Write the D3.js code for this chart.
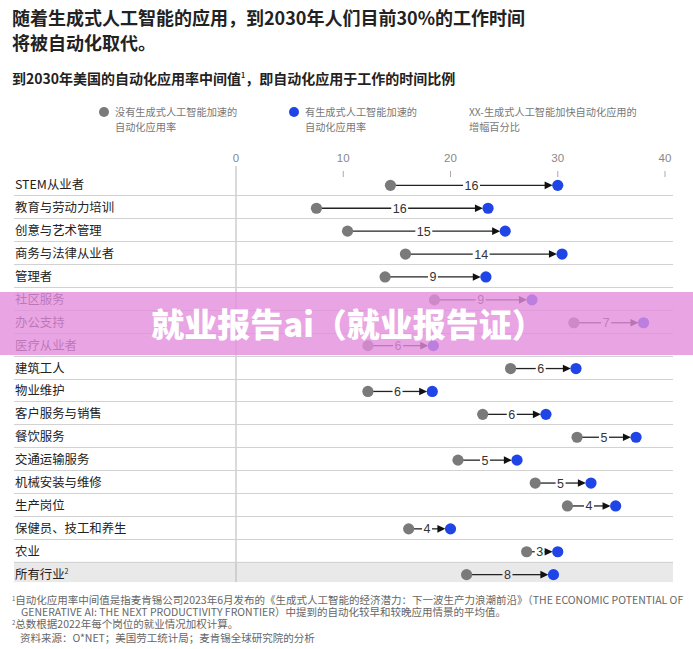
<!DOCTYPE html>
<html>
<head>
<meta charset="utf-8">
<script src="https://cdn.jsdelivr.net/npm/d3@7"></script>
<style>
  body { margin: 0; background: #fff; }
  svg { display: block; }
  .cjk { font-family: "Noto Sans CJK SC", "Noto Sans", sans-serif; }
  .num { font-family: "Liberation Sans", Arial, sans-serif; }
</style>
</head>
<body>
<svg id="chart" width="693" height="649"></svg>
<script>
// chart data
var categories = ['STEM从业者', '教育与劳动力培训', '创意与艺术管理', '商务与法律从业者', '管理者',
  '社区服务', '办公支持', '医疗从业者', '建筑工人', '物业维护', '客户服务与销售', '餐饮服务',
  '交通运输服务', '机械安装与维修', '生产岗位', '保健员、技工和养生', '农业', '所有行业'];
var withoutAI = [14.4, 7.5, 10.4, 15.8, 13.9, 18.5, 31.5, 12.3, 25.6, 12.3, 23.0, 31.8, 20.7, 27.9, 30.9, 16.1, 27.1, 21.5];
var withAI = [30.0, 23.5, 25.1, 30.4, 23.3, 27.6, 38.0, 18.4, 31.7, 18.3, 28.9, 37.3, 26.2, 33.1, 35.4, 20.0, 30.0, 29.6];
var increase = [16, 16, 15, 14, 9, 9, 7, 6, 6, 6, 6, 5, 5, 5, 4, 4, 3, 8];
var tickValues = [0, 10, 20, 30, 40];

var GRAY = '#7a7a7a', BLUE = '#1f45e6', R = 5.6;

var svg = d3.select('#chart');

// title + subtitle
svg.append('text').attr('class', 'cjk').attr('x', 12).attr('y', 25)
  .attr('font-size', 18).attr('font-weight', 700).attr('fill', '#222')
  .text('随着生成式人工智能的应用，到2030年人们目前30%的工作时间');
svg.append('text').attr('class', 'cjk').attr('x', 12).attr('y', 50)
  .attr('font-size', 18).attr('font-weight', 700).attr('fill', '#222')
  .text('将被自动化取代。');

var sub = svg.append('text').attr('class', 'cjk').attr('x', 12).attr('y', 84)
  .attr('font-size', 14).attr('font-weight', 700).attr('fill', '#222');
sub.append('tspan').text('到2030年美国的自动化应用率中间值');
sub.append('tspan').attr('font-size', 7).attr('dy', -6).text('1');
sub.append('tspan').attr('dy', 6).text('，即自动化应用于工作的时间比例');

// legend
var legend = [
  {x: 104, color: GRAY, lines: ['没有生成式人工智能加速的', '自动化应用率']},
  {x: 294, color: BLUE, lines: ['有生成式人工智能加速的', '自动化应用率']},
  {x: null, color: null, lines: ['XX-生成式人工智能加快自动化应用的', '增幅百分比']}
];
legend.forEach(function(l, i){
  var tx = l.x === null ? 469 : l.x + 11;
  if (l.color) svg.append('circle').attr('cx', l.x).attr('cy', 112).attr('r', 5).attr('fill', l.color);
  l.lines.forEach(function(t, j){
    svg.append('text').attr('class', 'cjk').attr('x', tx).attr('y', 116 + j * 15)
      .attr('font-size', 10.2).attr('fill', '#777').text(t);
  });
});

// scales
var x = d3.scaleLinear().domain([0, 40]).range([236, 665]);
var y = d3.scaleBand().domain(categories).range([172.4, 584.6]);
var left = 14, right = 673;

// last row background
var last = categories[categories.length - 1];
svg.append('rect').attr('x', left).attr('y', y(last)).attr('width', right - left)
  .attr('height', y.bandwidth() - 2.5).attr('fill', '#e9e9e9');

// axis ticks
var axis = svg.append('g');
axis.selectAll('text').data(tickValues).enter().append('text')
  .attr('class', 'num').attr('x', function(d){ return x(d); }).attr('y', 162)
  .attr('text-anchor', 'middle').attr('font-size', 11.5).attr('fill', '#888')
  .text(function(d){ return d; });
axis.selectAll('line').data(tickValues.slice(1)).enter().append('line')
  .attr('x1', function(d){ return x(d); }).attr('x2', function(d){ return x(d); })
  .attr('y1', 171).attr('y2', 177).attr('stroke', '#aaa');
svg.append('line').attr('x1', x(0)).attr('x2', x(0)).attr('y1', 166).attr('y2', 582)
  .attr('stroke', '#b5b5b5').attr('stroke-width', 1);

// row separators
svg.selectAll('.sep').data(categories.slice(0, -1)).enter().append('line')
  .attr('x1', left).attr('x2', right)
  .attr('y1', function(d){ return Math.round(y(d) + y.bandwidth()) + 0.5; })
  .attr('y2', function(d){ return Math.round(y(d) + y.bandwidth()) + 0.5; })
  .attr('stroke', '#d2d2d2');

// row labels
categories.forEach(function(c, i){
  var t = svg.append('text').attr('class', 'cjk').attr('x', left + 1)
    .attr('y', y(c) + y.bandwidth() / 2 + 5.5).attr('font-size', 12.4).attr('fill', '#222');
  t.append('tspan').text(c);
  if (i === categories.length - 1) t.append('tspan').attr('font-size', 7).attr('dy', -5).text('2');
});

// dumbbells
categories.forEach(function(c, i){
  var cy = y(c) + y.bandwidth() / 2 + 1.5;
  var x0 = x(withoutAI[i]), x1 = x(withAI[i]);
  var tip = x1 - R + 0.5;
  var g = svg.append('g');
  var mid = (x0 + tip) / 2;
  var lbl = g.append('text').attr('class', 'num').attr('x', mid).attr('y', cy + 4.5)
    .attr('text-anchor', 'middle').attr('font-size', 12.5).attr('fill', '#333').text(increase[i]);
  var w = lbl.node().getComputedTextLength() / 2 + 1.5;
  g.append('line').attr('x1', x0).attr('x2', mid - w).attr('y1', cy).attr('y2', cy)
    .attr('stroke', '#222').attr('stroke-width', 1.3);
  g.append('line').attr('x1', mid + w).attr('x2', tip - 6).attr('y1', cy).attr('y2', cy)
    .attr('stroke', '#222').attr('stroke-width', 1.3);
  g.append('path').attr('d', 'M' + (tip - 8) + ',' + (cy - 3.8) + 'L' + tip + ',' + cy + 'L' + (tip - 8) + ',' + (cy + 3.8) + 'Z')
    .attr('fill', '#111');
  g.append('circle').attr('cx', x0).attr('cy', cy).attr('r', R).attr('fill', GRAY);
  g.append('circle').attr('cx', x1).attr('cy', cy).attr('r', R).attr('fill', BLUE);
});

// footnotes
var notes = [
  {x: 12, y: 604, sup: '1', text: '自动化应用率中间值是指麦肯锡公司2023年6月发布的《生成式人工智能的经济潜力：下一波生产力浪潮前沿》（THE ECONOMIC POTENTIAL OF'},
  {x: 21, y: 616, sup: null, text: 'GENERATIVE  AI: THE NEXT PRODUCTIVITY FRONTIER）中提到的自动化较早和较晚应用情景的平均值。'},
  {x: 12, y: 628, sup: '2', text: '总数根据2022年每个岗位的就业情况加权计算。'},
  {x: 20, y: 642, sup: null, text: '资料来源：O*NET；美国劳工统计局；麦肯锡全球研究院的分析'}
];
notes.forEach(function(n){
  var t = svg.append('text').attr('class', 'cjk').attr('x', n.x).attr('y', n.y)
    .attr('font-size', 10.5).attr('fill', '#666');
  if (n.sup) t.append('tspan').attr('font-size', 6).attr('dy', -3.5).text(n.sup);
  t.append('tspan').attr('dy', n.sup ? 3.5 : 0).text(n.text);
});

// watermark band
svg.append('rect').attr('x', 0).attr('y', 292).attr('width', 693).attr('height', 63)
  .attr('fill', '#e38ddd').attr('opacity', 0.8);
svg.append('text').attr('class', 'cjk').attr('x', 348).attr('y', 337)
  .attr('text-anchor', 'middle').attr('font-size', 33).attr('font-weight', 900)
  .attr('fill', '#fff').text('就业报告ai（就业报告证）');
</script>
</body>
</html>
